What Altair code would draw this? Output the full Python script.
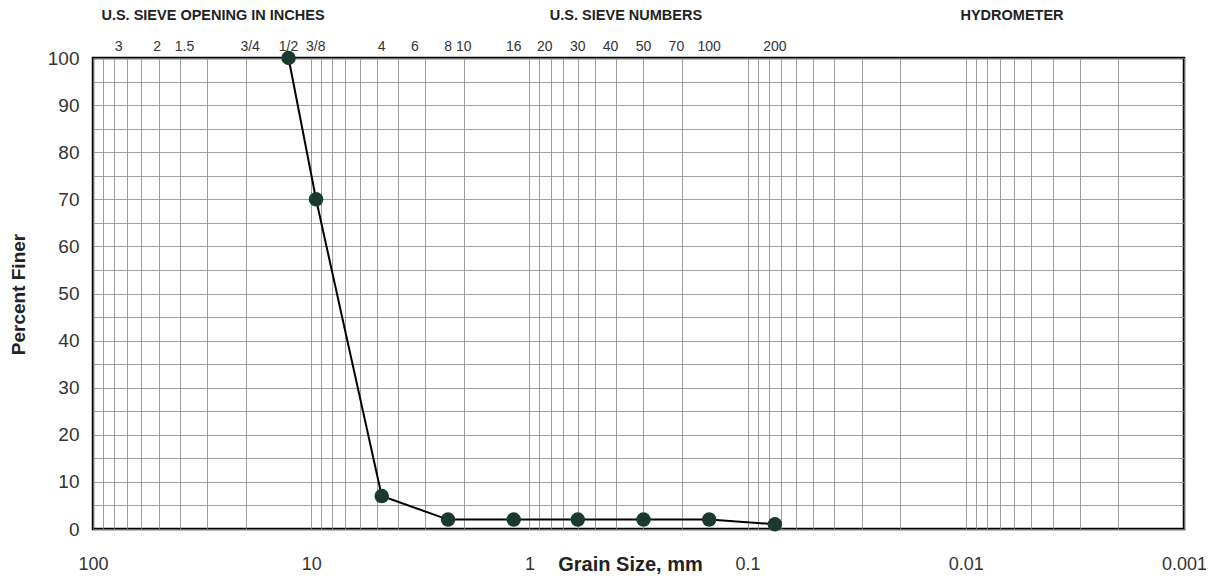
import altair as alt
import pandas as pd

# Measured gradation (sieve analysis)
grain_mm = [12.7, 9.5, 4.75, 2.36, 1.18, 0.6, 0.3, 0.15, 0.075]
percent_finer = [100, 70, 7, 2, 2, 2, 2, 2, 1]

# U.S. sieve openings (top axis)
sieve_mm = [76.2, 50.8, 38.1, 19.05, 12.7, 9.525, 4.75, 3.35, 2.36, 2.0,
            1.18, 0.85, 0.6, 0.425, 0.3, 0.212, 0.15, 0.075]
sieve_labels = ["3", "2", "1.5", "3/4", "1/2", "3/8", "4", "6", "8", "10",
                "16", "20", "30", "40", "50", "70", "100", "200"]

# Bottom axis decades
decade_mm = [100, 10, 1, 0.1, 0.01, 0.001]
decade_labels = ["100", "10", "1", "0.1", "0.01", "0.001"]

# Log grid lines and percent grid
grid_mm = [m * d for d in [10, 1, 0.1, 0.01, 0.001] for m in range(1, 10)] + [100]
percent_grid = list(range(0, 101, 5))

# Header groups
group_titles = ["U.S. SIEVE OPENING IN INCHES", "U.S. SIEVE  NUMBERS", "HYDROMETER"]
group_title_px = [120, 533, 919]

FONT = "Liberation Sans"
GRID = "#858585"

xscale = alt.Scale(type="log", domain=[0.001, 100], reverse=True, nice=False)
yscale = alt.Scale(domain=[0, 100], nice=False)

data = pd.DataFrame({"mm": grain_mm, "pct": percent_finer})
sieves = pd.DataFrame({"mm": sieve_mm, "label": sieve_labels, "pct": [100] * len(sieve_mm)})

label_expr = ("indexof(" + str(decade_mm) + ", datum.value) >= 0 ? "
              "" + str(decade_labels) + "[indexof(" + str(decade_mm) + ", datum.value)] : ''")

xaxis = alt.Axis(values=grid_mm, grid=True, gridColor=GRID, gridWidth=0.8,
                 ticks=False, domain=False, labelExpr=label_expr,
                 labelOverlap=False, labelFlush=False, labelFont=FONT,
                 labelFontSize=18, labelColor="#333", labelPadding=26,
                 title="Grain Size, mm", titleFont=FONT, titleFontSize=20,
                 titleFontWeight="bold", titleColor="#222",
                 titleX=537, titleY=35, titleAlign="center",
                 titleBaseline="middle")
yaxis = alt.Axis(values=percent_grid, grid=True, gridColor=GRID, gridWidth=0.8,
                 ticks=False, domain=False,
                 labelExpr="datum.value % 10 == 0 ? datum.label : ''",
                 labelOverlap=False, labelFont=FONT,
                 labelFontSize=19, labelColor="#333", labelPadding=14,
                 title="Percent Finer", titleFont=FONT, titleFontSize=19,
                 titleFontWeight="bold", titleColor="#222",
                 titleX=-75, titleY=236, titleAlign="center",
                 titleBaseline="middle")

X = alt.X("mm:Q", scale=xscale, axis=xaxis)
Y = alt.Y("pct:Q", scale=yscale, axis=yaxis)

line = alt.Chart(data).mark_line(color="black", strokeWidth=2).encode(x=X, y=Y)

points = alt.Chart(data).mark_circle(size=210, color="#1b3a2f", opacity=1).encode(x=X, y=Y)

top_labels = alt.Chart(sieves).mark_text(font=FONT, fontSize=14, color="#333",
                                         baseline="middle", dy=-11).encode(
    x=X, y=Y, text="label:N",
)

layers = [line, points, top_labels]
for t, px in zip(group_titles, group_title_px):
    one = pd.DataFrame({"t": [t]})
    layers.append(
        alt.Chart(one).mark_text(font=FONT, fontSize=14.5, fontWeight="bold",
                                 color="#222", baseline="middle").encode(
            x=alt.value(px), y=alt.value(-42), text="t:N")
    )

chart = alt.layer(*layers).properties(
    width=1091, height=471,
    autosize=alt.AutoSizeParams(type="none"),
    padding={"left": 85, "top": 50, "right": 22, "bottom": 50},
    background="white",
).configure_view(stroke="black", strokeWidth=2.5)

chart.save("out.html", embed_options={"renderer": "svg", "actions": False})
